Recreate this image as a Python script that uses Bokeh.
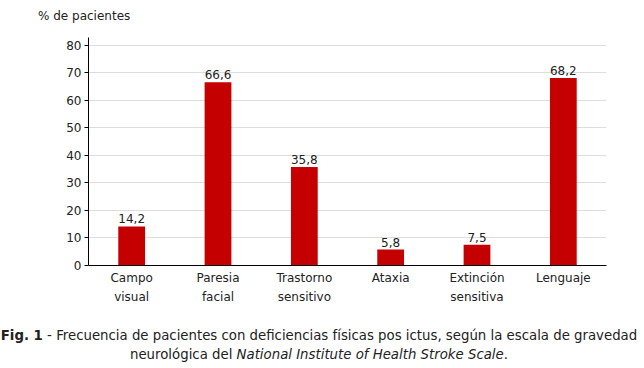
from bokeh.plotting import figure
from bokeh.models import (Range1d, FixedTicker, Div, ColumnDataSource, LinearAxis)
from bokeh.layouts import column
from bokeh.core.properties import value
from bokeh.embed import file_html
from bokeh.resources import INLINE

categories = ["Campo visual", "Paresia facial", "Trastorno sensitivo",
              "Ataxia", "Extinción sensitiva", "Lenguaje"]
tick_line1 = ["Campo", "Paresia", "Trastorno", "Ataxia", "Extinción", "Lenguaje"]
tick_line2 = ["visual", "facial", "sensitivo", "", "sensitiva", ""]
values = [14.2, 66.6, 35.8, 5.8, 7.5, 68.2]
value_labels = ["14,2", "66,6", "35,8", "5,8", "7,5", "68,2"]
y_ticks = [0, 10, 20, 30, 40, 50, 60, 70, 80]

FONT = "DejaVu Sans"
TXT = "#222222"

xpos = list(range(len(categories)))
src = ColumnDataSource(dict(x=xpos, cat=categories, val=values, lab=value_labels))

p = figure(x_range=Range1d(-0.5, len(categories) - 0.5), y_range=Range1d(0, 82.9),
           width=644, height=278,
           output_backend="svg", toolbar_location=None,
           min_border_left=88, min_border_right=38, min_border_top=7,
           min_border_bottom=43)
p.outline_line_color = None
p.background_fill_color = "white"

p.vbar(x="x", top="val", width=0.31, source=src, color="#c40000",
       line_color=None)
p.text(x="x", y="val", text="lab", source=src, text_align="center",
       text_baseline="bottom", y_offset=-3, text_font=value(FONT),
       text_font_size="12px", text_color=TXT)

p.xgrid.grid_line_color = None
p.ygrid.grid_line_color = "#dddddd"
p.ygrid.ticker = FixedTicker(ticks=y_ticks[1:])

p.yaxis.ticker = FixedTicker(ticks=y_ticks)
p.yaxis.minor_tick_line_color = None
p.yaxis.major_tick_in = 0
p.yaxis.major_tick_out = 4
p.yaxis.axis_line_color = "black"
p.yaxis.major_tick_line_color = "black"
p.yaxis.major_label_text_font = FONT
p.yaxis.major_label_text_font_size = "12px"
p.yaxis.major_label_text_color = TXT
p.yaxis.major_label_standoff = 3

ax1 = p.xaxis[0]
ax1.ticker = FixedTicker(ticks=xpos)
ax1.minor_tick_line_color = None
ax1.minor_tick_out = 0
ax1.major_tick_line_color = None
ax1.major_tick_in = 0
ax1.major_tick_out = 0
ax1.axis_line_color = "black"
ax1.major_label_overrides = dict(zip(xpos, tick_line1))
ax1.major_label_text_font = FONT
ax1.major_label_text_font_size = "12px"
ax1.major_label_text_color = TXT
ax1.major_label_standoff = 5

ax2 = LinearAxis(ticker=FixedTicker(ticks=xpos),
                 major_label_overrides=dict(zip(xpos, tick_line2)),
                 major_tick_line_color=None, minor_tick_line_color=None,
                 major_tick_in=0, major_tick_out=0, minor_tick_out=0,
                 axis_line_color=None,
                 major_label_text_font=FONT, major_label_text_font_size="12px",
                 major_label_text_color=TXT, major_label_standoff=2)
p.add_layout(ax2, "below")

title = Div(text="% de pacientes", width=644, height=30, margin=0,
            styles={"font-family": FONT, "font-size": "12px", "color": TXT,
                    "line-height": "16px", "padding-top": "8px",
                    "padding-left": "38px"})

caption = Div(
    text=("<b>Fig. 1</b> - Frecuencia de pacientes con deficiencias físicas pos ictus, "
          "según la escala de gravedad<br>neurológica del <i>National Institute of "
          "Health Stroke Scale</i>."),
    width=638, height=60, margin=0,
    styles={"font-family": FONT, "font-size": "13.3px", "color": TXT,
            "text-align": "center", "line-height": "19px", "padding-top": "18px"})

layout = column(title, p, caption, spacing=0)
open("out.html", "w").write(file_html(layout, INLINE))
